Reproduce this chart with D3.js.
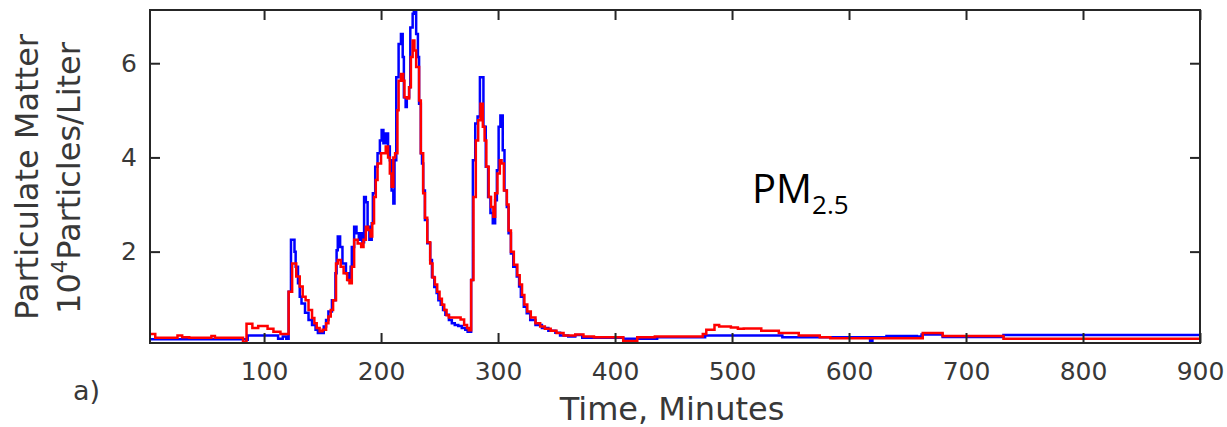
<!DOCTYPE html>
<html>
<head>
<meta charset="utf-8">
<script src="https://cdn.jsdelivr.net/npm/d3@7"></script>
<style>
  body { margin: 0; background: #fff; }
  svg { display: block; }
</style>
</head>
<body>
<div id="chart"></div>
<script>
// breakpoints (minutes, 10^4 particles/L), drawn as steps
const blueTime = [2, 85, 86, 110, 112, 116, 119, 121, 123, 126, 127, 129, 130.5, 132, 135, 138, 141, 144, 146, 151, 153, 155, 158,
  161, 162, 163, 165, 167, 170, 172, 174, 175, 177, 179, 181, 183, 184, 185.5, 187, 188.5, 190, 192, 193, 195, 197, 199, 200.5,
  202, 204, 206, 207.5, 209, 210.5, 211.5, 213, 215, 217, 218.5, 219.5, 221, 222, 224, 225, 227, 228, 230, 231.5, 232.5, 234,
  235, 236, 237.5, 239.5, 242, 243.5, 245.5, 247.5, 249, 251, 253, 255, 258, 260.5, 263, 266, 269, 272, 274, 277, 278.5, 280.5,
  282.5, 284.5, 287.5, 289.5, 291.5, 293.5, 295.5, 297.5, 299, 300.5, 302, 304, 305.5, 307.5, 309, 311, 313, 316, 318, 319.5,
  322, 324.5, 327.5, 332, 337.5, 343, 349, 353, 360, 366, 372, 407, 419, 436, 477, 543, 618, 620, 632, 658, 662, 680, 732, 900]
const blueValue = [0.14, 0.13, 0.22, 0.22, 0.15, 0.2, 0.15, 1.15, 2.25, 2.0, 1.68, 1.33, 1.04, 0.9, 0.7, 0.55, 0.44, 0.34, 0.27, 0.41, 0.55, 0.73, 0.97,
  1.54, 2.03, 2.32, 2.1, 1.75, 1.54, 1.4, 1.68, 2.1, 2.53, 2.39, 2.25, 2.39, 2.2, 3.16, 3.05, 2.53, 2.25, 2.6, 3.24, 3.8, 4.09, 4.36, 4.58,
  4.3, 4.51, 4.23, 3.94, 3.3, 3.02, 3.94, 5.7, 6.41, 6.62, 6.13, 5.28, 5.07, 5.28, 5.49, 6.76, 7.05, 7.15, 6.62, 6.13, 5.14, 4.09,
  3.87, 3.3, 2.67, 2.18, 1.82, 1.46, 1.25, 1.12, 0.97, 0.87, 0.76, 0.66, 0.55, 0.48, 0.44, 0.42, 0.38, 0.34, 0.3, 1.4, 3.94, 4.72,
  4.87, 5.7, 4.65, 3.8, 3.16, 2.82, 2.6, 3.09, 3.73, 4.65, 4.89, 4.15, 3.3, 2.95, 2.39, 1.96, 1.68, 1.47, 1.26, 1.04,
  0.83, 0.69, 0.55, 0.44, 0.38, 0.32, 0.28, 0.22, 0.2, 0.23, 0.17, 0.15, 0.15, 0.18, 0.22, 0.18, 0.1, 0.18, 0.21, 0.2, 0.24, 0.19, 0.23, 0.23]

const redTime = [2, 7, 26, 30, 36, 55, 58, 82, 85, 90, 95, 103, 108, 114, 121, 124, 127.5, 130.5, 133, 135.5, 138, 141, 143, 145, 147.5,
  150, 153, 155, 157, 159, 161.5, 163, 165.5, 168, 171, 173, 175, 177, 180, 183, 185, 187, 189, 191, 192.5, 194, 195.5, 197, 200,
  204, 206, 207.5, 209, 210.5, 212, 214, 215, 217, 219, 220, 222, 224, 225.5, 227, 228.5, 230, 232.5, 234, 236, 237.5, 239.5, 242,
  244, 246, 248, 250, 252, 254, 256, 258, 268, 271, 273.5, 275, 277, 279, 281, 283, 285, 287, 288.5, 290, 292, 294, 296, 297.5,
  299.5, 301.5, 303, 305, 307.5, 309, 311, 313.5, 316.5, 318.5, 320.5, 322.5, 325, 328, 332, 336, 340, 345, 350, 356, 366, 373,
  382, 407, 419, 434, 475, 478, 485, 489, 499, 505, 510, 525, 540, 557, 575, 584, 663, 680, 732, 900]
const redValue = [0.25, 0.17, 0.22, 0.18, 0.17, 0.21, 0.17, 0.08, 0.47, 0.38, 0.42, 0.36, 0.3, 0.25, 1.15, 1.75, 1.47, 1.26, 1.04, 0.97, 0.76, 0.59, 0.48, 0.38, 0.31,
  0.34, 0.48, 0.62, 0.76, 0.97, 1.75, 1.82, 1.68, 1.54, 1.4, 1.33, 1.68, 2.25, 2.17, 2.1, 2.25, 2.53, 2.46, 2.32, 2.6, 3.16, 3.52, 3.87, 4.09,
  4.23, 4.0, 3.66, 3.38, 4.0, 4.09, 5.0, 5.63, 5.77, 5.63, 5.28, 5.25, 5.49, 6.13, 6.48, 6.27, 5.92, 5.21, 4.09, 3.24, 2.72, 2.2, 1.75,
  1.45, 1.3, 1.15, 1.0, 0.87, 0.76, 0.65, 0.6, 0.56, 0.44, 0.38, 0.33, 1.4, 3.16, 4.36, 4.79, 5.14, 4.65, 4.36, 3.8, 3.16, 2.95, 2.74, 3.24,
  3.66, 3.94, 3.87, 3.3, 3.0, 2.45, 2.0, 1.72, 1.5, 1.3, 1.08, 0.88, 0.73, 0.6, 0.48, 0.41, 0.36, 0.32, 0.27, 0.22, 0.24, 0.2,
  0.18, 0.1, 0.18, 0.2, 0.25, 0.34, 0.44, 0.41, 0.39, 0.36, 0.37, 0.32, 0.27, 0.22, 0.18, 0.16, 0.27, 0.21, 0.15, 0.15]

const xTicks = [100, 200, 300, 400, 500, 600, 700, 800, 900]
const yTicks = [2, 4, 6]

const config = {
  margin: { top: 10, right: 27, bottom: 84, left: 150 },
  width: 1227,
  height: 427,
  colors: { axis: '#262626', text: '#383838', blue: '#0000ff', red: '#ff0000' }
}

const w = config.width - config.margin.left - config.margin.right
const h = config.height - config.margin.top - config.margin.bottom

const svg = d3.select('#chart')
  .append('svg')
  .attr('width', config.width)
  .attr('height', config.height)

const g = svg.append('g')
  .attr('transform', `translate(${config.margin.left},${config.margin.top})`)

const x = d3.scaleLinear().domain([2.5, 900]).range([0, w])
const y = d3.scaleLinear().domain([0.06, 7.13]).range([h, 0])

g.append('clipPath').attr('id', 'plot-clip')
  .append('rect').attr('width', w).attr('height', h)

const line = d3.line()
  .x((d) => x(d[0]))
  .y((d) => y(d[1]))
  .curve(d3.curveStepAfter)

const series = [
  { t: blueTime, v: blueValue, color: config.colors.blue },
  { t: redTime, v: redValue, color: config.colors.red }
]

series.forEach((s) => {
  g.append('path')
    .datum(s.t.map((t, i) => [t, s.v[i]]))
    .attr('clip-path', 'url(#plot-clip)')
    .attr('fill', 'none')
    .attr('stroke', s.color)
    .attr('stroke-width', 2.5)
    .attr('d', line)
})

const styleAxis = (sel, showText) => {
  sel.select('.domain').remove()
  sel.selectAll('.tick line').attr('stroke', config.colors.axis).attr('stroke-width', 2)
  if (!showText) sel.selectAll('.tick text').remove()
  sel.selectAll('.tick text')
    .attr('fill', config.colors.text)
    .style('font-family', 'DejaVu Sans')
    .style('font-size', '25px')
}

g.append('g')
  .attr('transform', `translate(0,${h})`)
  .call(d3.axisBottom(x).tickValues(xTicks).tickSize(-10).tickPadding(19).tickFormat(d3.format('d')))
  .call((sel) => styleAxis(sel, true))

g.append('g')
  .call(d3.axisTop(x).tickValues(xTicks).tickSize(-10))
  .call((sel) => styleAxis(sel, false))

g.append('g')
  .call(d3.axisLeft(y).tickValues(yTicks).tickSize(-10).tickPadding(13).tickFormat(d3.format('d')))
  .call((sel) => styleAxis(sel, true))

g.append('g')
  .attr('transform', `translate(${w},0)`)
  .call(d3.axisRight(y).tickValues(yTicks).tickSize(-10))
  .call((sel) => styleAxis(sel, false))

// frame
g.append('rect')
  .attr('width', w)
  .attr('height', h)
  .attr('fill', 'none')
  .attr('stroke', config.colors.axis)
  .attr('stroke-width', 2)

// axis titles
const labelStyle = (sel) => sel
  .attr('fill', config.colors.text)
  .style('font-family', 'DejaVu Sans')
  .style('font-size', '32px')

svg.append('text')
  .attr('x', 672)
  .attr('y', 420)
  .attr('text-anchor', 'middle')
  .text('Time, Minutes')
  .call(labelStyle)

svg.append('text')
  .attr('transform', 'translate(38,177) rotate(-90)')
  .attr('text-anchor', 'middle')
  .text('Particulate Matter')
  .call(labelStyle)

const yl2 = svg.append('text')
  .attr('transform', 'translate(80,178) rotate(-90)')
  .attr('text-anchor', 'middle')
  .call(labelStyle)
yl2.append('tspan').text('10')
yl2.append('tspan').attr('dy', -13).style('font-size', '21px').text('4')
yl2.append('tspan').attr('dy', 13).text('Particles/Liter')

svg.append('text')
  .attr('x', 73)
  .attr('y', 400)
  .text('a)')
  .attr('fill', config.colors.text)
  .style('font-family', 'DejaVu Sans')
  .style('font-size', '27px')

// PM2.5 annotation
const pm = svg.append('text')
  .attr('x', 752)
  .attr('y', 203)
  .attr('fill', '#000')
  .style('font-family', 'Open Sans')
  .style('font-size', '40px')
pm.append('tspan').text('PM')
pm.append('tspan').attr('dy', 11).style('font-size', '26px').text('2.5')
</script>
</body>
</html>
